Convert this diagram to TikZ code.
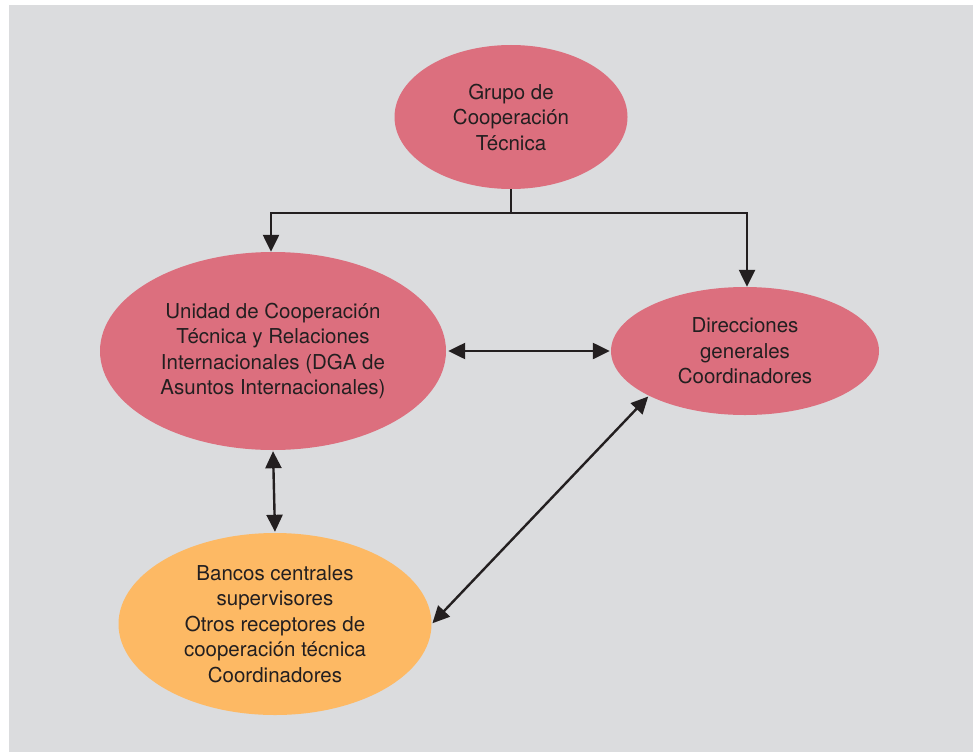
\documentclass[tikz,border=0pt]{standalone}
\usepackage{fontspec}
\setmainfont{TeX Gyre Heros}
\usepackage{tikz}
\usetikzlibrary{shapes.geometric}
\usetikzlibrary{arrows.meta}
\usepackage{xcolor}

\definecolor{fondo}{HTML}{DBDCDE}
\definecolor{rosa}{HTML}{DC6F7E}
\definecolor{naranja}{HTML}{FDB964}
\definecolor{texto}{HTML}{231F20}

\tikzset{
    elipse/.style = {ellipse, inner sep = 0pt, align = center, text = texto,
        font = \fontsize{20.5}{25.5}\selectfont},
    flecha/.style = {line width = 2.4pt, draw = texto,
        -{Triangle[length=17pt,width=16pt]}},
    dobleflecha/.style = {line width = 2.4pt, draw = texto,
        {Triangle[length=17pt,width=16pt]}-{Triangle[length=17pt,width=16pt]}}
}

\begin{document}
\begin{tikzpicture}[x = 1pt, y = -1pt]
        \useasboundingbox (0,0) rectangle (973,752);
        \fill[white] (0,0) rectangle (973,752);
        \fill[fondo] (9,5) rectangle (973,752);

        \node[elipse, fill = rosa, minimum width = 233pt, minimum height = 144pt] (grupo) at (511,117)
            {Grupo de\\Cooperación\\Técnica};
        \node[elipse, fill = rosa, minimum width = 346pt, minimum height = 198pt] (unidad) at (273,351)
            {Unidad de Cooperación\\Técnica y Relaciones\\Internacionales (DGA de\\Asuntos Internacionales)};
        \node[elipse, fill = rosa, minimum width = 268pt, minimum height = 128pt] (direcciones) at (745,351)
            {Direcciones\\generales\\Coordinadores};
        \node[elipse, fill = naranja, minimum width = 313pt, minimum height = 182pt] (bancos) at (275,624)
            {Bancos centrales\\supervisores\\Otros receptores de\\cooperación técnica\\Coordinadores};

        \draw[flecha] (grupo.south) -- ++(0,24) -| ([xshift=-2pt]unidad.north);
        \draw[flecha] (grupo.south) -- ++(0,24) -| ([xshift=2pt]direcciones.north);

        \draw[dobleflecha, shorten <= 2pt, shorten >= 1pt] (unidad.east) -- (direcciones.west);
        \draw[dobleflecha, shorten <= 1pt, shorten >= 1pt] (unidad.south) -- (bancos.north);
        \draw[dobleflecha, shorten <= 1pt, shorten >= 1pt] (bancos.east) -- (direcciones.205);
    \end{tikzpicture}
\end{document}
